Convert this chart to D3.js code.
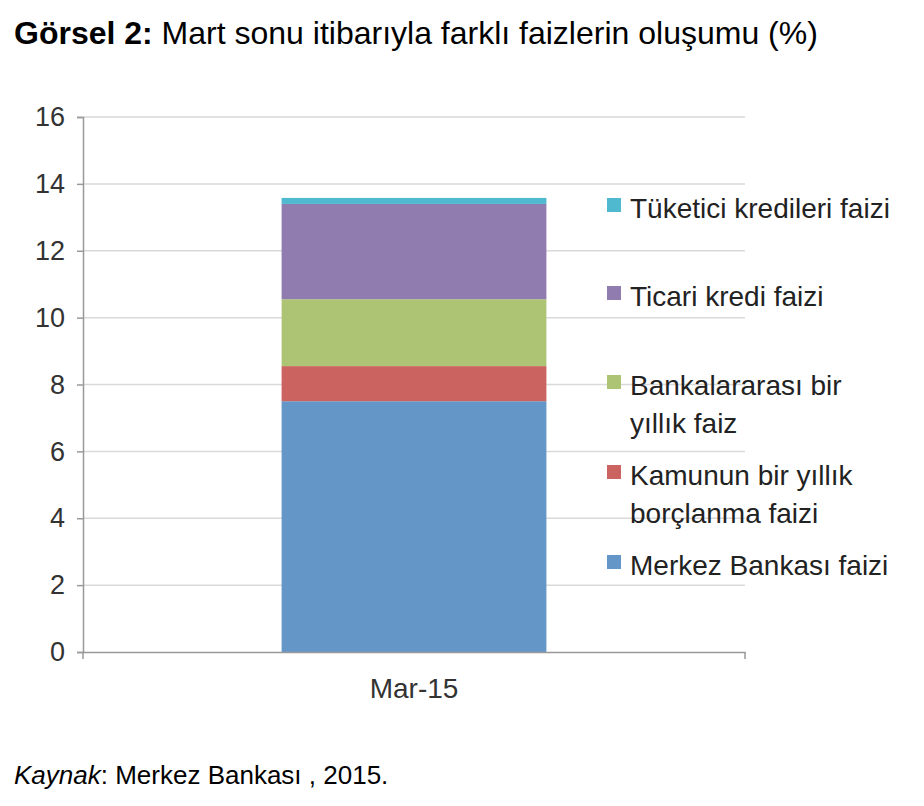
<!DOCTYPE html>
<html><head><meta charset="utf-8">
<script src="https://cdn.jsdelivr.net/npm/d3@7"></script>
<style>body{margin:0;background:#fff;font-family:"Liberation Sans",Arial,sans-serif;}</style>
</head><body><div class="vis"></div>
<script>
const categories = ["Mar-15"];
const seriesNames = ["Merkez Bankası faizi", "Kamunun bir yıllık borçlanma faizi", "Bankalararası bir yıllık faiz", "Ticari kredi faizi", "Tüketici kredileri faizi"];
const seriesValues = [7.5, 1.05, 2.0, 2.85, 0.18];
const seriesColors = ["#6497c8", "#cb6361", "#adc474", "#917cb0", "#4fb9d0"];
const legendLines = [["Merkez Bankası faizi"], ["Kamunun bir yıllık", "borçlanma faizi"], ["Bankalararası bir", "yıllık faiz"], ["Ticari kredi faizi"], ["Tüketici kredileri faizi"]];
const legendY = [575, 485, 395, 306, 218];
const yTicks = [0, 2, 4, 6, 8, 10, 12, 14, 16];

const svg = d3.select(".vis").append("svg").attr("width", 924).attr("height", 806);

svg.append("text").attr("x", 14).attr("y", 44).attr("font-size", 32).attr("fill", "#000")
  .html('<tspan font-weight="bold">Görsel 2:</tspan> Mart sonu itibarıyla farklı faizlerin oluşumu (%)');

const margin = { left: 83, top: 117, right: 745, bottom: 652 };
const x = d3.scaleBand().domain(categories).range([margin.left, margin.right]).paddingInner(0.6).paddingOuter(0.3);
const y = d3.scaleLinear().domain([0, 16]).range([margin.bottom, margin.top]);

// gridlines
svg.append("g").selectAll("line").data(yTicks.slice(1)).enter().append("line")
  .attr("x1", margin.left).attr("x2", margin.right)
  .attr("y1", d => y(d)).attr("y2", d => y(d))
  .attr("stroke", "#d9d9d9").attr("stroke-width", 1.5);

// stacked bar
let cum = 0;
const stacks = seriesValues.map((v, i) => { const s = { y0: cum, y1: cum + v, c: seriesColors[i] }; cum += v; return s; });
svg.append("g").selectAll("rect").data(stacks).enter().append("rect")
  .attr("x", x(categories[0])).attr("width", x.bandwidth())
  .attr("y", d => y(d.y1)).attr("height", d => y(d.y0) - y(d.y1))
  .attr("fill", d => d.c);

// y axis
const ya = svg.append("g").attr("transform", `translate(${margin.left},0)`)
  .call(d3.axisLeft(y).tickValues(yTicks).tickSize(6).tickPadding(12));
ya.selectAll("text").attr("font-size", 27).attr("fill", "#333").attr("font-family", "Liberation Sans, Arial, sans-serif");
ya.selectAll("line,path").attr("stroke", "#999").attr("stroke-width", 1.5);

// x axis
const xa = svg.append("g").attr("transform", `translate(0,${margin.bottom})`)
  .call(d3.axisBottom(x).tickSize(0).tickPadding(26));
xa.selectAll("text").attr("font-size", 28).attr("fill", "#333").attr("font-family", "Liberation Sans, Arial, sans-serif");
xa.select("path").attr("stroke", "#999").attr("stroke-width", 1.5);
[margin.left, margin.right].forEach(px => svg.append("line").attr("x1", px).attr("x2", px)
  .attr("y1", margin.bottom).attr("y2", margin.bottom + 7).attr("stroke", "#999").attr("stroke-width", 1.5));

// legend
const lg = svg.append("g").selectAll("g").data(seriesNames).enter().append("g");
lg.append("rect").attr("x", 607).attr("y", (d, i) => legendY[i] - 20).attr("width", 14).attr("height", 14)
  .attr("fill", (d, i) => seriesColors[i]);
lg.append("text").attr("x", 630).attr("y", (d, i) => legendY[i]).attr("font-size", 28).attr("fill", "#222")
  .selectAll("tspan").data((d, i) => legendLines[i]).enter().append("tspan")
  .attr("x", 630).attr("dy", (d, j) => j === 0 ? 0 : 38).text(d => d);

svg.append("text").attr("x", 14).attr("y", 784).attr("font-size", 26).attr("fill", "#000")
  .html('<tspan font-style="italic">Kaynak</tspan>: Merkez Bankası , 2015.');
</script></body></html>
